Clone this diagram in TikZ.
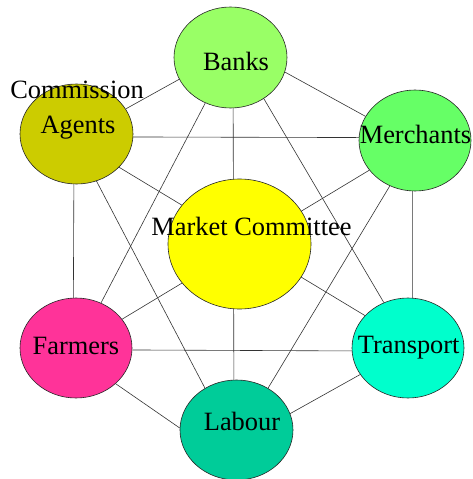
\documentclass[tikz,border=0pt]{standalone}
\usepackage{fontspec}
\setmainfont{Liberation Serif}
\usetikzlibrary{shapes.geometric,backgrounds}
\definecolor{banksc}{HTML}{99FF66}
\definecolor{merchc}{HTML}{66FF66}
\definecolor{agentc}{HTML}{CCCC00}
\definecolor{mktc}{HTML}{FFFF00}
\definecolor{farmc}{HTML}{FF3399}
\definecolor{transc}{HTML}{00FFCC}
\definecolor{labc}{HTML}{00CC99}
\begin{document}
\begin{tikzpicture}[x=1pt,y=-1pt,
  blob/.style={ellipse,draw=black!85,line width=0.6pt,inner sep=0pt},
  lbl/.style={inner sep=0pt,anchor=base,font=\fontsize{26.4}{30}\selectfont},
  link/.style={draw=black!80,line width=0.6pt}]
\useasboundingbox (0,0) rectangle (473,479);
% the seven groups
\node[blob,fill=banksc,minimum width=113pt,minimum height=101pt] (banks) at (230.5,57.5) {};
\node[blob,fill=merchc,minimum width=112pt,minimum height=101pt] (merch) at (415,140.5) {};
\node[blob,fill=agentc,minimum width=113pt,minimum height=100pt] (agents) at (76.5,134) {};
\node[blob,fill=farmc,minimum width=112pt,minimum height=100pt] (farm) at (76,348) {};
\node[blob,fill=transc,minimum width=112pt,minimum height=100pt] (trans) at (408,348) {};
\node[blob,fill=labc,minimum width=113pt,minimum height=100pt] (lab) at (236.5,430) {};
\node[blob,fill=mktc,minimum width=143pt,minimum height=130pt] (mkt) at (239.5,244) {};
% labels
\node[lbl] (tbanks) at (236,70.7) {Banks};
\node[lbl] (tmerch) at (415.5,143.3) {Merchants};
\node[lbl] (tcomm) at (77,98.3) {Commission};
\node[lbl] (tagents) at (78,133.3) {Agents};
\node[lbl] (tmkt) at (251.5,235) {Market Committee};
\node[lbl] (tfarm) at (76,354) {Farmers};
\node[lbl] (ttrans) at (408.7,353.3) {Transport};
\node[lbl] (tlab) at (242,430) {Labour};
% every outer group linked to every other, behind the shapes
\begin{pgfonlayer}{background}
\draw[link] (banks.-15.6) -- (merch.154.5);
\draw[link] (banks.-157.6) -- (agents.27.3);
\draw[link] (banks.-87.2) -- (lab.93.7);
\draw[link] (banks.-119.1) -- (farm.61);
\draw[link] (banks.-51.3) -- (trans.118.1);
\draw[link] (agents.-3.7) -- (merch.177.1);
\draw[link] (merch.-147.1) -- (farm.32.1);
\draw[link] (merch.-119.4) -- (lab.53.7);
\draw[link] (merch.-93.4) -- (trans.85.4);
\draw[link] (agents.-38.5) -- (trans.143.9);
\draw[link] (agents.-93.7) -- (farm.93.1);
\draw[link] (agents.-67) -- (lab.127.9);
\draw[link] (farm.-2.7) -- (trans.-177.2);
\draw[link] (farm.-42.3) -- (lab.178.3);
\draw[link] (trans.-151.3) -- (lab.17.3);
\end{pgfonlayer}
\end{tikzpicture}
\end{document}
